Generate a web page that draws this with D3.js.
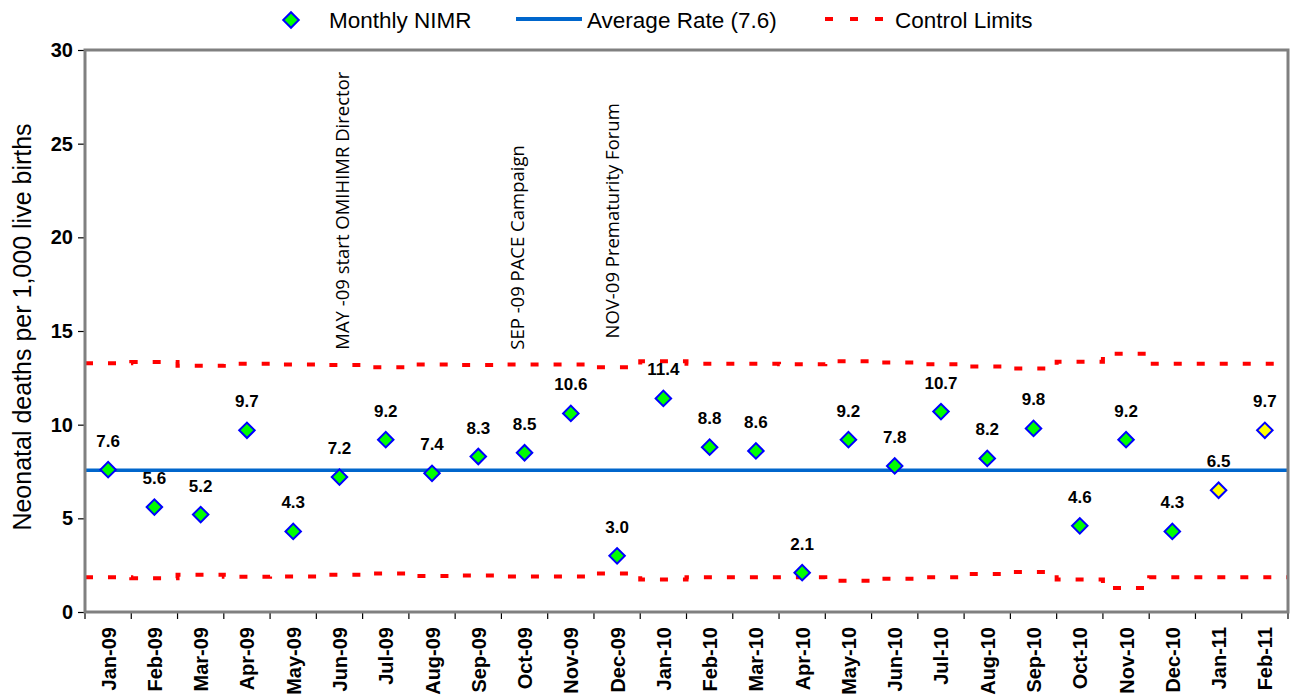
<!DOCTYPE html>
<html>
<head>
<meta charset="utf-8">
<script src="https://cdn.jsdelivr.net/npm/d3@7"></script>
<style>
  html, body { margin: 0; padding: 0; background: #fff; }
  svg { display: block; }
</style>
</head>
<body>
<svg id="chart" width="1291" height="698"></svg>
<script>
// ---------------- data ----------------
const months = ["Jan-09","Feb-09","Mar-09","Apr-09","May-09","Jun-09","Jul-09","Aug-09","Sep-09","Oct-09","Nov-09","Dec-09",
                "Jan-10","Feb-10","Mar-10","Apr-10","May-10","Jun-10","Jul-10","Aug-10","Sep-10","Oct-10","Nov-10","Dec-10",
                "Jan-11","Feb-11"];
const nimr = [7.6,5.6,5.2,9.7,4.3,7.2,9.2,7.4,8.3,8.5,10.6,3.0,
              11.4,8.8,8.6,2.1,9.2,7.8,10.7,8.2,9.8,4.6,9.2,4.3,
              6.5,9.7];
const upperLimit = [13.28,13.35,13.14,13.25,13.21,13.18,13.07,13.21,13.18,13.21,13.21,13.07,
                    13.39,13.25,13.25,13.22,13.39,13.32,13.22,13.11,13.00,13.36,13.78,13.25,
                    13.25,13.25];
const lowerLimit = [1.85,1.80,1.99,1.88,1.90,1.99,2.06,1.92,1.95,1.90,1.90,2.06,
                    1.74,1.85,1.85,1.85,1.67,1.78,1.85,2.03,2.13,1.74,1.28,1.85,
                    1.85,1.85];
const averageRate = 7.57;
const provisionalMonths = ["Jan-11","Feb-11"];
const yTicks = [0,5,10,15,20,25,30];
const annotations = [
  {text: "MAY -09 start OMIHIMR Director", pos: 5.576, value: 14.0},
  {text: "SEP -09 PACE Campaign",          pos: 9.337, value: 14.0},
  {text: "NOV-09 Prematurity Forum",       pos: 11.39, value: 14.6}
];
const legendItems = ["Monthly NIMR", "Average Rate (7.6)", "Control Limits"];
const yTitle = "Neonatal deaths per 1,000 live births";

// ---------------- layout ----------------
const plot = {left: 85, right: 1288, top: 50, bottom: 612};
const svg = d3.select("#chart");
const FONT = "Liberation Sans, Arial, Helvetica, sans-serif";

const x = d3.scaleBand().domain(months).range([plot.left, plot.right]).paddingInner(0).paddingOuter(0);
const xPos = d3.scaleLinear().domain([0, months.length]).range([plot.left, plot.right]);
const y = d3.scaleLinear().domain([0, 30]).range([plot.bottom, plot.top]);

// y axis ticks + labels
const yAxis = d3.axisLeft(y).tickValues(yTicks).tickSize(7).tickPadding(5).tickFormat(d3.format("d"));
const gy = svg.append("g").attr("transform", `translate(${plot.left},0)`).call(yAxis);
gy.select(".domain").remove();
gy.selectAll(".tick line").attr("stroke", "#000").attr("stroke-width", 1.2);
gy.selectAll(".tick text").attr("font-family", FONT).attr("font-size", 20).attr("font-weight", "bold").attr("fill", "#000");

// x axis: ticks at band boundaries
const boundaries = d3.range(months.length + 1);
svg.append("g").selectAll("line").data(boundaries).join("line")
  .attr("x1", d => xPos(d)).attr("x2", d => xPos(d))
  .attr("y1", plot.bottom).attr("y2", plot.bottom + 7)
  .attr("stroke", "#000").attr("stroke-width", 1.2);

svg.append("g").selectAll("text").data(months).join("text")
  .attr("transform", d => `translate(${x(d) + x.bandwidth()/2 + 7.5},${plot.bottom + 15}) rotate(-90)`)
  .attr("text-anchor", "end")
  .attr("font-family", FONT).attr("font-size", 20).attr("font-weight", "bold").attr("fill", "#000")
  .text(d => d);

// y title
svg.append("text")
  .attr("transform", `translate(31,327) rotate(-90)`)
  .attr("text-anchor", "middle")
  .attr("font-family", FONT).attr("font-size", 25).attr("fill", "#000")
  .text(yTitle);

// control limits (stepped)
function stepPoints(vals) {
  const pts = [];
  months.forEach((m, i) => { pts.push([x(m), vals[i]]); pts.push([x(m) + x.bandwidth(), vals[i]]); });
  return pts;
}
const limLine = d3.line().x(d => d[0]).y(d => y(d[1]));
[upperLimit, lowerLimit].forEach(vals => {
  svg.append("path").attr("d", limLine(stepPoints(vals)))
    .attr("fill", "none").attr("stroke", "#FF0000").attr("stroke-width", 4)
    .attr("stroke-dasharray", "8,15");
});

// average line
svg.append("line")
  .attr("x1", plot.left).attr("x2", plot.right)
  .attr("y1", y(averageRate)).attr("y2", y(averageRate))
  .attr("stroke", "#0066CC").attr("stroke-width", 3.5);

// plot frame
svg.append("rect")
  .attr("x", plot.left).attr("y", plot.top)
  .attr("width", plot.right - plot.left).attr("height", plot.bottom - plot.top)
  .attr("fill", "none").attr("stroke", "#808080").attr("stroke-width", 3);

// annotations
svg.append("g").selectAll("text").data(annotations).join("text")
  .attr("transform", d => `translate(${xPos(d.pos) + 6.5},${y(d.value)}) rotate(-90)`)
  .attr("text-anchor", "start")
  .attr("font-family", "Open Sans, Noto Sans, sans-serif").attr("font-size", 18.5).attr("fill", "#000")
  .text(d => d.text);

// points
const diamond = d3.symbol().type(d3.symbolSquare).size(120);
const pts = months.map((m, i) => ({m, v: nimr[i]}));
svg.append("g").selectAll("path").data(pts).join("path")
  .attr("d", diamond)
  .attr("transform", d => `translate(${x(d.m) + x.bandwidth()/2},${y(d.v)}) rotate(45)`)
  .attr("fill", d => provisionalMonths.includes(d.m) ? "#FFFF00" : "#00FF00")
  .attr("stroke", "#0000FF").attr("stroke-width", 2);

// data labels
svg.append("g").selectAll("text").data(pts).join("text")
  .attr("x", d => x(d.m) + x.bandwidth()/2)
  .attr("y", d => y(d.v) - 23)
  .attr("text-anchor", "middle")
  .attr("font-family", FONT).attr("font-size", 17).attr("font-weight", "bold").attr("fill", "#000")
  .text(d => d.v.toFixed(1));

// legend
const lg = svg.append("g");
lg.append("path").attr("d", diamond).attr("transform", "translate(291,20) rotate(45)")
  .attr("fill", "#00FF00").attr("stroke", "#0000FF").attr("stroke-width", 2);
lg.append("text").attr("x", 329).attr("y", 28).attr("font-family", FONT).attr("font-size", 22.5).text(legendItems[0]);
lg.append("line").attr("x1", 516).attr("x2", 582).attr("y1", 19).attr("y2", 19)
  .attr("stroke", "#0066CC").attr("stroke-width", 4);
lg.append("text").attr("x", 587).attr("y", 28).attr("font-family", FONT).attr("font-size", 22.5).text(legendItems[1]);
lg.append("line").attr("x1", 825).attr("x2", 884).attr("y1", 19).attr("y2", 19)
  .attr("stroke", "#FF0000").attr("stroke-width", 4).attr("stroke-dasharray", "8,17");
lg.append("text").attr("x", 895).attr("y", 28).attr("font-family", FONT).attr("font-size", 22.5).text(legendItems[2]);
</script>
</body>
</html>
